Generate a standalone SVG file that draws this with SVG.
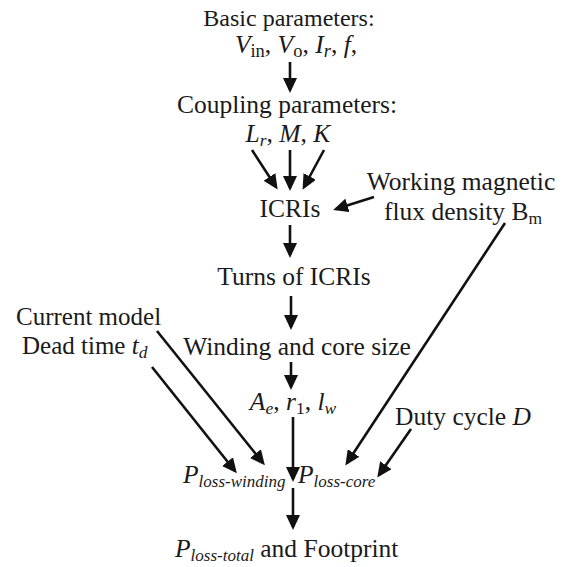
<svg xmlns="http://www.w3.org/2000/svg" width="574" height="567" viewBox="0 0 574 567">
<style>
text{font-family:"Liberation Serif","Times New Roman",serif;font-size:25.5px;fill:#1a1a1a}
.i{font-style:italic}
.s{font-size:17.5px}
.c{stroke:#111;stroke-width:2.6;fill:none;marker-end:url(#ah)}
</style>
<defs>
<marker id="ah" markerUnits="userSpaceOnUse" markerWidth="16" markerHeight="14" refX="12" refY="7" orient="auto">
<path d="M0,0 L15,7 L0,14 z" fill="#111"/>
</marker>
</defs>
<rect width="574" height="567" fill="#fff"/>
<g id="connectors">
<line class="c" x1="290" y1="62" x2="290" y2="90"/>
<line class="c" x1="252" y1="150" x2="276" y2="187"/>
<line class="c" x1="290" y1="150" x2="290" y2="188"/>
<line class="c" x1="324" y1="150" x2="304" y2="187"/>
<line class="c" x1="374" y1="197" x2="336" y2="209"/>
<line class="c" x1="290" y1="225" x2="290" y2="255"/>
<line class="c" x1="291" y1="296" x2="291" y2="327"/>
<line class="c" x1="291" y1="362" x2="291" y2="387"/>
<line class="c" x1="293" y1="417" x2="293" y2="479"/>
<line class="c" x1="293" y1="488" x2="293" y2="527"/>
<line class="c" x1="157" y1="331" x2="263" y2="463"/>
<line class="c" x1="152" y1="367" x2="235" y2="471"/>
<line class="c" x1="505" y1="223" x2="347" y2="463"/>
<line class="c" x1="411" y1="429" x2="379" y2="475"/>
</g>
<g id="basic">
<text x="289" y="26" text-anchor="middle" style="font-size:24px">Basic parameters:</text>
<text x="296" y="53" text-anchor="middle"><tspan class="i">V</tspan><tspan class="s" dy="4" style="font-size:18.5px">in</tspan><tspan dy="-4">,  </tspan><tspan class="i">V</tspan><tspan class="s" dy="4" style="font-size:18.5px">o</tspan><tspan dy="-4">,  </tspan><tspan class="i">I</tspan><tspan class="s i" dy="4" style="font-size:18.5px">r</tspan><tspan dy="-4">,  </tspan><tspan class="i">f</tspan>,</text>
</g>
<g id="coupling">
<text x="287" y="113" text-anchor="middle">Coupling parameters:</text>
<text x="288" y="142" text-anchor="middle"><tspan class="i">L</tspan><tspan class="s i" dy="4">r</tspan><tspan dy="-4">, </tspan><tspan class="i">M</tspan>, <tspan class="i">K</tspan></text>
</g>
<g id="icris">
<text x="290" y="217" text-anchor="middle">ICRIs</text>
</g>
<g id="flux">
<text x="461" y="190" text-anchor="middle">Working magnetic</text>
<text x="384" y="220">flux density B<tspan class="s" dy="4">m</tspan></text>
</g>
<g id="turns">
<text x="294" y="285" text-anchor="middle">Turns of ICRIs</text>
</g>
<g id="winding">
<text x="297" y="355" text-anchor="middle">Winding and core size</text>
</g>
<g id="geom">
<text x="293" y="410" text-anchor="middle"><tspan class="i">A</tspan><tspan class="s i" dy="4">e</tspan><tspan dy="-4">,  </tspan><tspan class="i">r</tspan><tspan class="s" dy="4">1</tspan><tspan dy="-4">,  </tspan><tspan class="i">l</tspan><tspan class="s i" dy="4">w</tspan></text>
</g>
<g id="current">
<text x="16" y="325" style="font-size:25px">Current model</text>
</g>
<g id="dead">
<text x="22" y="354" style="font-size:25px">Dead time <tspan class="i">t</tspan><tspan class="s i" dy="4">d</tspan></text>
</g>
<g id="duty">
<text x="395" y="425">Duty cycle <tspan class="i">D</tspan></text>
</g>
<g id="pwinding">
<text x="183" y="483"><tspan class="i">P</tspan><tspan class="s i" dy="4" style="font-size:17px">loss-winding</tspan></text>
</g>
<g id="pcore">
<text x="298" y="483"><tspan class="i">P</tspan><tspan class="s i" dy="4" style="font-size:17px">loss-core</tspan></text>
</g>
<g id="ptotal">
<text x="175" y="557"><tspan class="i">P</tspan><tspan class="s i" dy="4" style="font-size:17px">loss-total</tspan><tspan dy="-4"> and Footprint</tspan></text>
</g>
</svg>
